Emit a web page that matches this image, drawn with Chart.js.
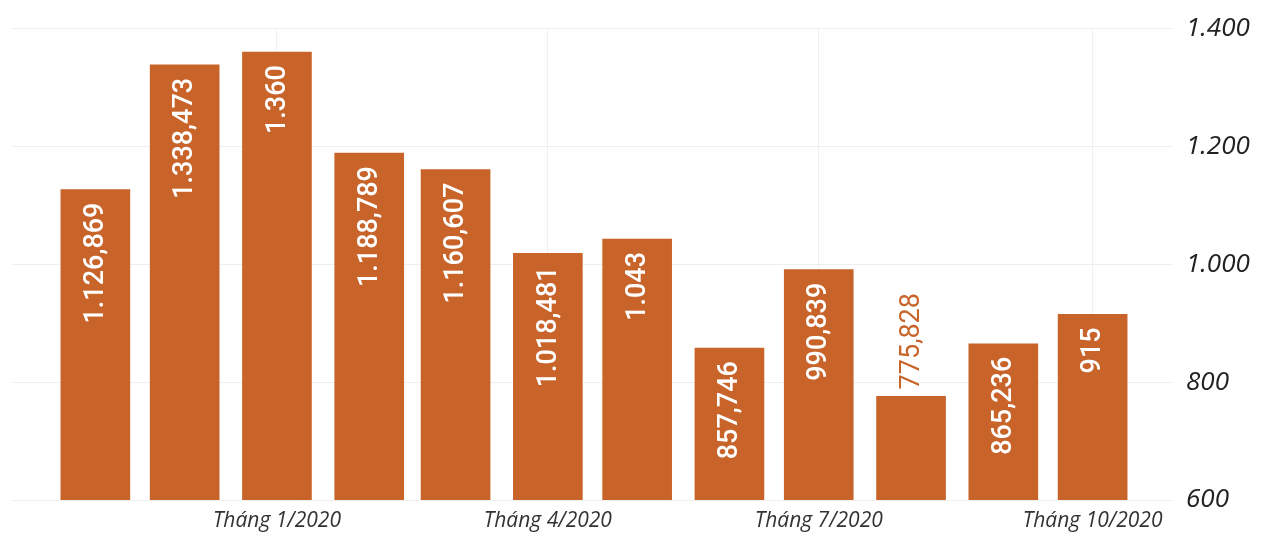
<!DOCTYPE html>
<html>
<head>
<meta charset="utf-8">
<script src="https://cdn.jsdelivr.net/npm/chart.js@4.4.1/dist/chart.umd.min.js"></script>
<style>
  html, body { margin: 0; padding: 0; background: #ffffff; }
  #wrap { width: 1267px; height: 536px; position: relative; }
</style>
</head>
<body>
<div id="wrap"><canvas id="c"></canvas></div>
<script>
// ---- data ----
const months = ['2019-11-01','2019-12-01','2020-01-01','2020-02-01','2020-03-01','2020-04-01',
                '2020-05-01','2020-06-01','2020-07-01','2020-08-01','2020-09-01','2020-10-01'];
const values = [1126.869, 1338.473, 1360, 1188.789, 1160.607, 1018.481,
                1043, 857.746, 990.839, 775.828, 865.236, 915];
const xTickDates = ['2020-01-01','2020-04-01','2020-07-01','2020-10-01'];
const xTickLabels = ['Tháng 1/2020','Tháng 4/2020','Tháng 7/2020','Tháng 10/2020'];
const yTicks = [600, 800, 1000, 1200, 1400];
const xRange = ['2019-10-04','2020-10-28'];

// ---- helpers ----
const day = s => { const [y,m,d] = s.split('-').map(Number); return Date.UTC(y, m-1, d) / 86400000; };
function fmtVN(v) {
  const parts = String(v).split('.');
  const intPart = parts[0].replace(/\B(?=(\d{3})+(?!\d))/g, '.');
  return parts.length > 1 ? intPart + ',' + parts[1] : intPart;
}

const BAR = '#c8642a';
const points = months.map((m, i) => ({ x: day(m), y: values[i] }));
const tickMap = {};
xTickDates.forEach((d, i) => { tickMap[day(d)] = xTickLabels[i]; });
const X_MIN = day(xRange[0]), X_MAX = day(xRange[1]);

const labelPlugin = {
  id: 'barLabels',
  afterDatasetsDraw(chart) {
    const ctx = chart.ctx;
    const meta = chart.getDatasetMeta(0);
    const bottom = chart.chartArea.bottom;
    meta.data.forEach((bar, i) => {
      const txt = fmtVN(values[i]);
      const h = Math.min(bar.base, bottom) - bar.y;
      ctx.save();
      ctx.font = '500 27px Roboto';
      const w = ctx.measureText(txt).width;
      ctx.translate(bar.x, bar.y);
      ctx.rotate(-Math.PI / 2);
      ctx.textBaseline = 'middle';
      if (w + 28 <= h) {
        ctx.fillStyle = '#ffffff';
        ctx.textAlign = 'right';
        ctx.fillText(txt, -13, 1);
      } else {
        ctx.font = '400 27px Roboto';
        ctx.fillStyle = BAR;
        ctx.textAlign = 'left';
        ctx.fillText(txt, 7, 1);
      }
      ctx.restore();
    });
  }
};

new Chart(document.getElementById('c'), {
  type: 'bar',
  data: {
    datasets: [{
      data: points,
      backgroundColor: BAR,
      borderWidth: 0,
      barThickness: 69
    }]
  },
  options: {
    responsive: true,
    maintainAspectRatio: false,
    animation: false,
    layout: { padding: { left: 12, top: 25, right: 0, bottom: 0 } },
    plugins: { legend: { display: false }, tooltip: { enabled: false } },
    scales: {
      x: {
        type: 'linear',
        offset: false,
        bounds: 'data',
        min: X_MIN,
        max: X_MAX,
        afterDataLimits: s => { s.min = X_MIN; s.max = X_MAX; },
        afterBuildTicks: s => { s.ticks = xTickDates.map(d => ({ value: day(d) })); s.min = X_MIN; s.max = X_MAX; },
        afterFit: s => { s.height = 36; },
        ticks: {
          autoSkip: false,
          maxRotation: 0,
          padding: 8,
          color: '#333333',
          font: { family: 'Open Sans', size: 21, style: 'italic' },
          callback: v => tickMap[v] || ''
        },
        grid: { color: '#f0f0f0', drawTicks: false, offset: false },
        border: { display: false }
      },
      y: {
        position: 'right',
        min: 600,
        max: 1400,
        afterBuildTicks: s => { s.ticks = yTicks.map(v => ({ value: v })); },
        afterFit: s => { s.width = 94; },
        ticks: {
          padding: 13,
          color: '#222222',
          font: { family: 'Open Sans', size: 26, style: 'italic' },
          callback: v => fmtVN(v)
        },
        grid: { color: '#eeeeee', drawTicks: false },
        border: { display: false }
      }
    }
  },
  plugins: [labelPlugin]
});
</script>
</body>
</html>
